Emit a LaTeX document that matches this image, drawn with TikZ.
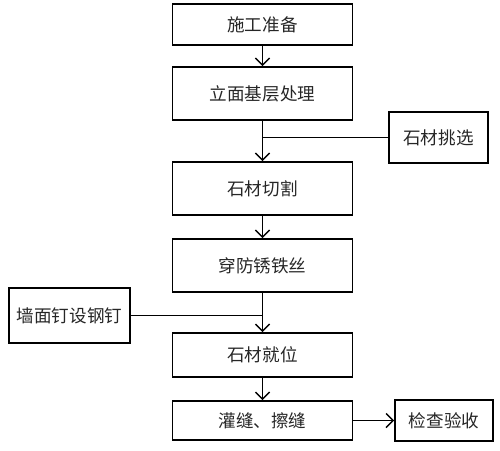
\documentclass[tikz,border=0pt]{standalone}
\usepackage{fontspec}
\setmainfont{Noto Sans CJK SC}
\usetikzlibrary{positioning, arrows.meta}

\begin{document}
\begin{tikzpicture}[line width=0.8pt, >={Straight Barb[length=4pt, width=8pt]}, main/.style = {draw, line width=1.1pt, minimum width=3.6cm, text=black!85, font=\fontsize{10}{12}\selectfont}, side/.style = {main, minimum width=1.98cm}]
\useasboundingbox (0,0) rectangle (10,-9);
\node[main, minimum height=0.82cm] (1) at (5.25,-0.49) {施工准备};
\node[main, minimum height=1.06cm] (2) at (5.25,-1.87) {立面基层处理};
\node[main, minimum height=1.06cm] (3) at (5.25,-3.77) {石材切割};
\node[main, minimum height=1.06cm] (4) at (5.25,-5.31) {穿防锈铁丝};
\node[main, minimum height=0.88cm] (5) at (5.25,-7.10) {石材就位};
\node[main, minimum height=0.78cm] (6) at (5.25,-8.41) {灌缝、擦缝};
\node[side, minimum height=1.02cm] (7) at (8.77,-2.75) {石材挑选};
\node[side, minimum width=2.42cm, minimum height=1.1cm] (8) at (1.39,-6.31) {墙面钉设钢钉};
\node[side, minimum width=1.96cm, minimum height=0.82cm] (9) at (8.88,-8.41) {检查验收};
\draw[->] (1) -- (2);
\draw[->] (2) -- (3);
\draw[->] (3) -- (4);
\draw[->] (4) -- (5);
\draw[->] (5) -- (6);
\draw[->] (6) -- (9);
\draw (7.west) -- (7.west -| 3.north);
\draw (8.east) -- (8.east -| 5.north);
\end{tikzpicture}
\end{document}
